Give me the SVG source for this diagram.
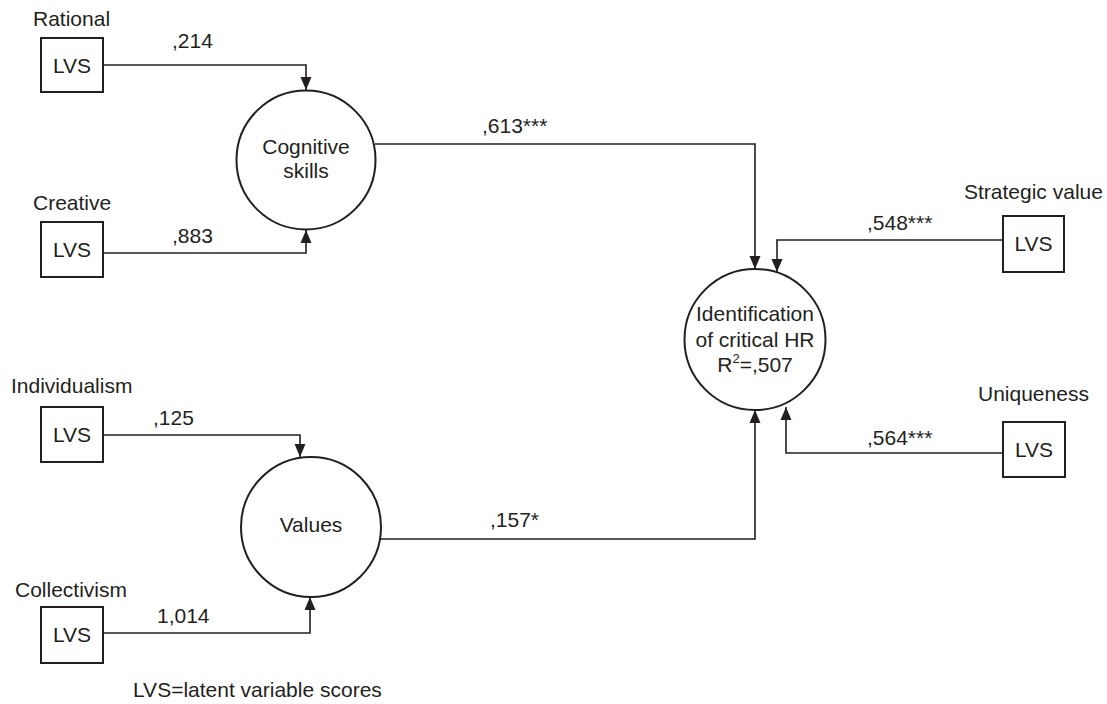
<svg xmlns="http://www.w3.org/2000/svg" width="1107" height="704" viewBox="0 0 1107 704">
<defs>
<style>
text{font-family:"Liberation Sans",Arial,sans-serif;font-size:21px;fill:#231f20}
.c{text-anchor:middle}
.box{fill:#fff;stroke:#231f20;stroke-width:2}
.circ{fill:#fff;stroke:#231f20;stroke-width:2}
.conn{fill:none;stroke:#231f20;stroke-width:1.6}
</style>
<marker id="ah" markerUnits="userSpaceOnUse" markerWidth="14" markerHeight="14" viewBox="0 0 14 14" refX="13" refY="7" orient="auto">
<path d="M0,1.5 L13,7 L0,12.5 Z" fill="#231f20"/>
</marker>
</defs>
<rect width="1107" height="704" fill="#fff"/>
<g id="connectors">
<path class="conn" d="M103,65 H306 V90" marker-end="url(#ah)"/>
<path class="conn" d="M103,253 H306 V230" marker-end="url(#ah)"/>
<path class="conn" d="M375,144 H755 V269" marker-end="url(#ah)"/>
<path class="conn" d="M1003,240 H777 V272" marker-end="url(#ah)"/>
<path class="conn" d="M103,435 H300 V457" marker-end="url(#ah)"/>
<path class="conn" d="M103,633 H310 V597" marker-end="url(#ah)"/>
<path class="conn" d="M381,539 H755 V410" marker-end="url(#ah)"/>
<path class="conn" d="M1003,453 H786 V407" marker-end="url(#ah)"/>
<text x="172" y="48">,214</text>
<text x="172" y="243">,883</text>
<text x="482" y="133">,613***</text>
<text x="867" y="230">,548***</text>
<text x="153" y="425">,125</text>
<text x="157" y="623">1,014</text>
<text x="490" y="527">,157*</text>
<text x="867" y="445">,564***</text>
</g>
<g id="rational">
<text x="33" y="26">Rational</text>
<rect class="box" x="41" y="38" width="62" height="54"/>
<text class="c" x="72" y="72.5">LVS</text>
</g>
<g id="creative">
<text x="33" y="210">Creative</text>
<rect class="box" x="41" y="222" width="62" height="55"/>
<text class="c" x="72" y="257">LVS</text>
</g>
<g id="cognitive">
<circle class="circ" cx="306" cy="160" r="69.5"/>
<text class="c" x="306" y="154">Cognitive</text>
<text class="c" x="306" y="178">skills</text>
</g>
<g id="individualism">
<text x="11" y="393">Individualism</text>
<rect class="box" x="41" y="407" width="62" height="55"/>
<text class="c" x="72" y="442">LVS</text>
</g>
<g id="collectivism">
<text x="15" y="597">Collectivism</text>
<rect class="box" x="41" y="607" width="62" height="56"/>
<text class="c" x="72" y="642">LVS</text>
</g>
<g id="values">
<circle class="circ" cx="311" cy="527" r="70"/>
<text class="c" x="311" y="532">Values</text>
</g>
<g id="identification">
<circle class="circ" cx="755" cy="339.5" r="70.5"/>
<text class="c" x="755" y="321">Identification</text>
<text class="c" x="755" y="347">of critical HR</text>
<text class="c" x="755" y="372">R<tspan font-size="13" dy="-9">2</tspan><tspan dy="9">=,507</tspan></text>
</g>
<g id="strategic">
<text x="964" y="199">Strategic value</text>
<rect class="box" x="1003" y="216" width="61" height="56"/>
<text class="c" x="1033.5" y="251">LVS</text>
</g>
<g id="uniqueness">
<text x="978" y="401">Uniqueness</text>
<rect class="box" x="1003" y="422" width="62" height="55"/>
<text class="c" x="1034" y="457">LVS</text>
</g>
<g id="footnote">
<text x="133" y="697">LVS=latent variable scores</text>
</g>
</svg>
